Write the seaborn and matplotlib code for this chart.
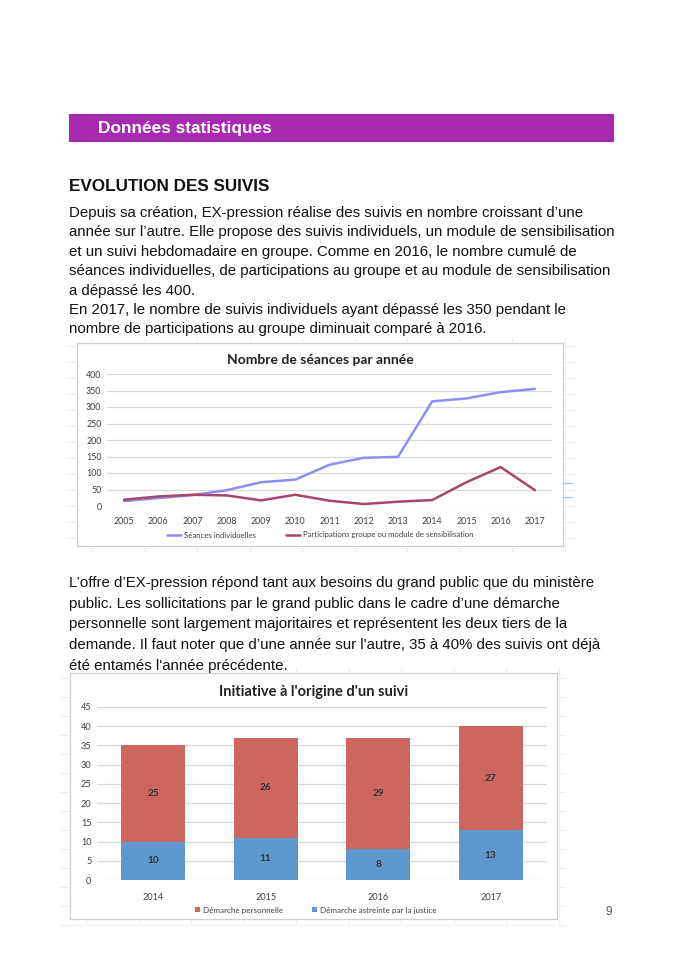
import matplotlib
matplotlib.use("Agg")
import matplotlib.pyplot as plt
import seaborn as sns
import pandas as pd
from matplotlib.patches import Rectangle

# Données du graphique 1 : nombre de séances par année
annees = [2005, 2006, 2007, 2008, 2009, 2010, 2011, 2012, 2013, 2014, 2015, 2016, 2017]
seances_individuelles = [15, 24, 33, 48, 72, 80, 125, 146, 149, 317, 326, 345, 355]
participations_groupe = [19, 29, 34, 32, 17, 34, 16, 6, 13, 18, 72, 118, 48]

# Données du graphique 2 : initiative à l'origine d'un suivi
annees_suivi = ["2014", "2015", "2016", "2017"]
demarche_justice = [10, 11, 8, 13]
demarche_personnelle = [25, 26, 29, 27]

W, H = 684, 968
TEXT_FONT = ["Liberation Sans", "DejaVu Sans"]
CHART_FONT = ["Lato", "DejaVu Sans"]


def box(x0, y0, x1, y1):
    """coordonnées pixels (origine en haut) -> rect figure"""
    return [x0 / W, 1 - y1 / H, (x1 - x0) / W, (y1 - y0) / H]


def fy(y):
    return 1 - y / H


def grille_tableur(x0, y0, x1, y1, dx, dy):
    """fond de cellules Excel très pâle derrière la capture"""
    g = fig.add_axes(box(x0, y0, x1, y1))
    g.set_xlim(x0, x1); g.set_ylim(y1, y0)
    g.axis("off")
    g.set_zorder(-1)
    x = x0 + dx / 2
    while x < x1:
        g.axvline(x, color="#eeeeee", linewidth=0.8)
        x += dx
    y = y0 + dy / 2
    while y < y1:
        g.axhline(y, color="#eeeeee", linewidth=0.8)
        y += dy


sns.set_theme(style="white")
plt.rcParams['font.family'] = TEXT_FONT

fig = plt.figure(figsize=(W / 100, H / 100), dpi=100)
fig.patch.set_facecolor("white")

# Bandeau violet
fig.patches.append(Rectangle((69 / W, fy(142)), (614 - 69) / W, 28 / H,
                             transform=fig.transFigure, facecolor="#a62bb0",
                             edgecolor="none"))
fig.text(98 / W, fy(128.5), "Données statistiques", color="white", fontsize=12.4,
         fontweight="bold", va="center", ha="left")

fig.text(69 / W, fy(187), "EVOLUTION DES SUIVIS", fontsize=12.3, fontweight="bold",
         va="center", ha="left", color="#111111")

para1 = [
    "Depuis sa création, EX-pression réalise des suivis en nombre croissant d\u2019une",
    "année sur l\u2019autre. Elle propose des suivis individuels, un module de sensibilisation",
    "et un suivi hebdomadaire en groupe. Comme en 2016, le nombre cumulé de",
    "séances individuelles, de participations au groupe et au module de sensibilisation",
    "a dépassé les 400.",
    "En 2017, le nombre de suivis individuels ayant dépassé les 350 pendant le",
    "nombre de participations au groupe diminuait comparé à 2016.",
]
for i, ligne in enumerate(para1):
    fig.text(69 / W, fy(213 + i * 19.4), ligne, fontsize=10.8, va="center",
             ha="left", color="#111111")

para2 = [
    "L\u2019offre d\u2019EX-pression répond tant aux besoins du grand public que du ministère",
    "public. Les sollicitations par le grand public dans le cadre d\u2019une démarche",
    "personnelle sont largement majoritaires et représentent les deux tiers de la",
    "demande. Il faut noter que d\u2019une année sur l'autre, 35 à 40% des suivis ont déjà",
    "été entamés l'année précédente.",
]
for i, ligne in enumerate(para2):
    fig.text(69 / W, fy(583 + i * 20.7), ligne, fontsize=10.8, va="center",
             ha="left", color="#111111")

fig.text(609 / W, fy(912), "9", fontsize=8.5, color="#555555", va="center", ha="center")

# fonds de tableur (captures d'écran)
grille_tableur(66, 338, 576, 552, 52.5, 16)
grille_tableur(60, 668, 566, 926, 52.5, 19)

# ---------- Graphique 1 ----------
cadre1 = fig.add_axes(box(77, 343, 563, 546))
cadre1.set_xticks([]); cadre1.set_yticks([])
for s in cadre1.spines.values():
    s.set_color("#cfcfcf"); s.set_linewidth(0.9)
cadre1.set_facecolor("white")
cadre1.set_zorder(0)
cadre1.text(0.5, 1 - 17 / 203, "Nombre de séances par année", transform=cadre1.transAxes,
            family=CHART_FONT, fontsize=10, fontweight="bold", color="#222222",
            ha="center", va="center")

ax1 = fig.add_axes(box(107, 374, 552, 506))
ax1.set_zorder(1)
ax1.patch.set_alpha(0)
df1 = pd.DataFrame({"annee": annees,
                    "Séances individuelles": seances_individuelles,
                    "Participations groupe ou module de sensibilisation": participations_groupe})
sns.lineplot(data=df1, x="annee", y="Séances individuelles", ax=ax1,
             color="#8d8ff0", linewidth=1.8, label="Séances individuelles")
sns.lineplot(data=df1, x="annee", y="Participations groupe ou module de sensibilisation",
             ax=ax1, color="#a8466f", linewidth=1.8,
             label="Participations groupe ou module de sensibilisation")
ax1.set_xlim(2004.5, 2017.5)
ax1.set_ylim(0, 400)
ax1.set_yticks(range(0, 401, 50))
ax1.set_xticks(annees)
ax1.grid(axis="y", color="#d9d9d9", linewidth=0.9)
ax1.grid(axis="x", visible=False)
for s in ax1.spines.values():
    s.set_visible(False)
ax1.set_xlabel(""); ax1.set_ylabel("")
ax1.tick_params(axis="both", length=0, labelsize=6.4, colors="#404040", pad=4)
for lab in ax1.get_xticklabels() + ax1.get_yticklabels():
    lab.set_family(CHART_FONT)
ax1.tick_params(axis="x", pad=8)
ax1.legend(loc="center", bbox_to_anchor=(320 / W, fy(535)),
           bbox_transform=fig.transFigure, ncol=2, frameon=False,
           prop={"family": CHART_FONT, "size": 5.6}, handlelength=1.8,
           handletextpad=0.4, columnspacing=3.8, labelcolor="#404040")

# petits traits bleus qui dépassent à droite de la capture
for yy in (483, 497):
    fig.add_artist(plt.Line2D([563 / W, 572 / W], [fy(yy), fy(yy)],
                              transform=fig.transFigure, color="#a9c4e8", linewidth=0.9))

# ---------- Graphique 2 ----------
cadre2 = fig.add_axes(box(70, 673, 557, 919))
cadre2.set_xticks([]); cadre2.set_yticks([])
for s in cadre2.spines.values():
    s.set_color("#cfcfcf"); s.set_linewidth(0.9)
cadre2.set_facecolor("white")
cadre2.set_zorder(0)
cadre2.text(0.5, 1 - 19 / 246, "Initiative à l'origine d'un suivi", transform=cadre2.transAxes,
            family=CHART_FONT, fontsize=10.5, fontweight="bold", color="#222222",
            ha="center", va="center")

ax2 = fig.add_axes(box(97, 707, 547, 880))
ax2.set_zorder(1)
ax2.patch.set_alpha(0)
totaux = [a + b for a, b in zip(demarche_justice, demarche_personnelle)]
df2 = pd.DataFrame({"annee": annees_suivi, "justice": demarche_justice,
                    "personnelle": demarche_personnelle, "total": totaux})
sns.barplot(data=df2, x="annee", y="total", ax=ax2, color="#cd6560", width=0.57,
            saturation=1, label="Démarche personnelle", zorder=2, linewidth=0,
            edgecolor="none")
sns.barplot(data=df2, x="annee", y="justice", ax=ax2, color="#5f97cf", width=0.57,
            saturation=1, label="Démarche astreinte par la justice", zorder=2,
            linewidth=0, edgecolor="none")
for i, (j, p) in enumerate(zip(demarche_justice, demarche_personnelle)):
    ax2.text(i, j / 2, str(j), ha="center", va="center", family=CHART_FONT,
             fontsize=7.3, fontweight="bold", color="#333333")
    ax2.text(i, j + p / 2, str(p), ha="center", va="center", family=CHART_FONT,
             fontsize=7.3, fontweight="bold", color="#333333")
ax2.set_xlim(-0.5, 3.5)
ax2.set_ylim(0, 45)
ax2.set_yticks(range(0, 46, 5))
ax2.grid(axis="y", color="#d9d9d9", linewidth=0.9, zorder=0)
ax2.set_axisbelow(True)
for s in ax2.spines.values():
    s.set_visible(False)
ax2.set_xlabel(""); ax2.set_ylabel("")
ax2.tick_params(axis="both", length=0, labelsize=6.6, colors="#404040", pad=4)
ax2.tick_params(axis="x", pad=9)
for lab in ax2.get_xticklabels() + ax2.get_yticklabels():
    lab.set_family(CHART_FONT)
ax2.legend(loc="center", bbox_to_anchor=(316 / W, fy(910)), bbox_transform=fig.transFigure,
           ncol=2, frameon=False, prop={"family": CHART_FONT, "size": 5.8},
           handlelength=0.55, handleheight=0.55, columnspacing=3.6, handletextpad=0.45,
           labelcolor="#404040")

fig.savefig("out.png", dpi=100, facecolor="white")
